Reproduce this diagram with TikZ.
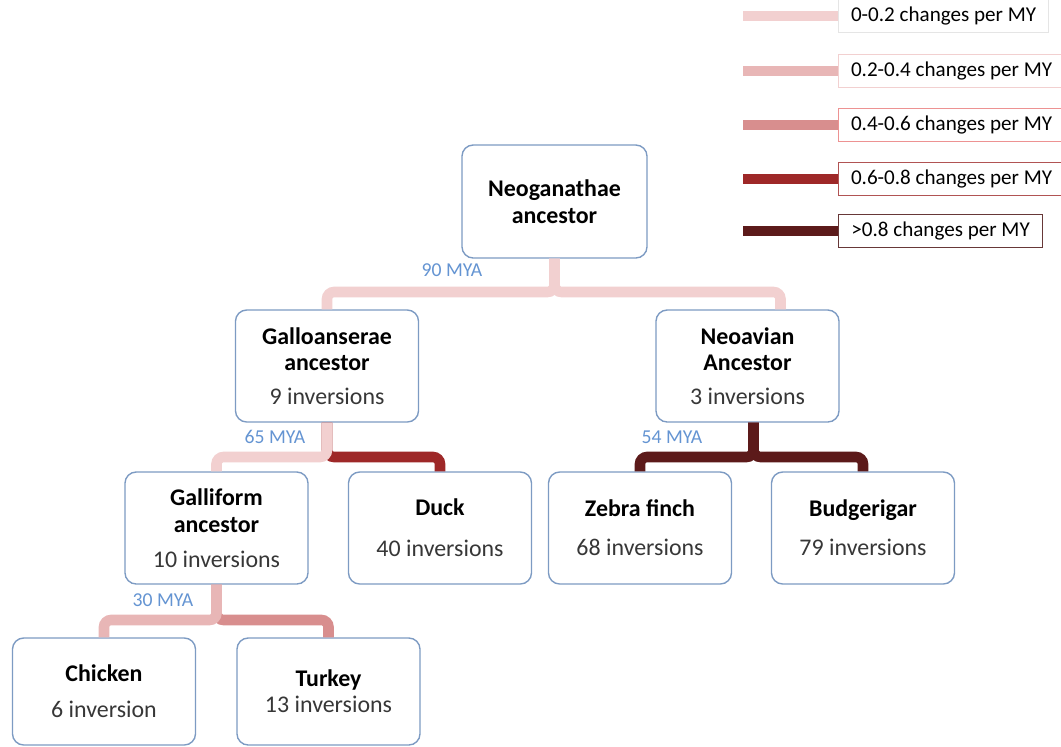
\documentclass[tikz,border=0pt]{standalone}
\usepackage{fontspec}
\setmainfont{Carlito}
\usepackage{xcolor}
\usetikzlibrary{positioning,calc}

\definecolor{rateA}{RGB}{242,208,208}
\definecolor{rateB}{RGB}{232,182,182}
\definecolor{rateC}{RGB}{216,142,142}
\definecolor{rateD}{RGB}{158,40,40}
\definecolor{rateE}{RGB}{92,26,26}
\definecolor{boxblue}{RGB}{125,155,195}
\definecolor{myablue}{RGB}{100,148,210}
\definecolor{countgray}{RGB}{55,55,55}

\tikzset{
  taxon/.style={draw=boxblue, line width=1pt, fill=white, rounded corners=8pt,
    minimum width=4.575cm, minimum height=2.8cm, align=center,
    font=\fontsize{17}{19}\selectfont},
  mya/.style={text=myablue, font=\fontsize{14}{16}\selectfont},
  keybox/.style={anchor=west, line width=0.8pt, fill=white, align=left,
    minimum height=0.82cm, inner xsep=3pt, font=\fontsize{15}{17}\selectfont},
  edgeA/.style={line width=7.5pt, draw=rateA, rounded corners=5pt},
  edgeB/.style={line width=7.5pt, draw=rateB, rounded corners=5pt},
  edgeC/.style={line width=7.5pt, draw=rateC, rounded corners=5pt},
  edgeD/.style={line width=7.5pt, draw=rateD, rounded corners=5pt},
  edgeE/.style={line width=7.5pt, draw=rateE, rounded corners=5pt}
}
\newcommand{\cnt}[1]{{\color{countgray}#1}}

\begin{document}
\begin{tikzpicture}[x=0.025cm, y=-0.025cm]
  \useasboundingbox (0,0) rectangle (1061,746);

  % Tree nodes
  \node[taxon, minimum width=4.625cm, minimum height=2.825cm] (neog) at (554.5,201.5) {\textbf{Neoganathae}\\\textbf{ancestor}};
  \node[taxon] (gallo) at (327,366) {\textbf{Galloanserae}\\\textbf{ancestor}\\[5pt]\cnt{9 inversions}};
  \node[taxon] (neoav) at (747.5,366) {\textbf{Neoavian}\\\textbf{Ancestor}\\[5pt]\cnt{3 inversions}};
  \node[taxon] (galli) at (216.5,528) {\textbf{Galliform}\\\textbf{ancestor}\\[6pt]\cnt{10 inversions}};
  \node[taxon] (duck) at (440,528) {\textbf{Duck}\\[10pt]\cnt{40 inversions}};
  \node[taxon] (zebra) at (640,528) {\textbf{Zebra finch}\\[8.5pt]\cnt{68 inversions}};
  \node[taxon] (budgie) at (863,528) {\textbf{Budgerigar}\\[8.5pt]\cnt{79 inversions}};
  \node[taxon, minimum height=2.675cm] (chicken) at (104,691.5) {\textbf{Chicken}\\[6.5pt]\cnt{6 inversion}};
  \node[taxon, minimum height=2.675cm] (turkey) at (328.5,691.5) {\textbf{Turkey}\\[-0.5pt]\cnt{13 inversions}};

  % Branch levels
  \coordinate (bar1) at (0,292);
  \coordinate (bar2) at (0,457);
  \coordinate (bar3) at (0,620);

  % Branches
  \draw[edgeA] (neog.south) -- (neog.south |- bar1) -| (gallo.north);
  \draw[edgeA] (neog.south) -- (neog.south |- bar1) -| ([xshift=0.825cm]neoav.north);
  \draw[edgeD] (gallo.south) -- (gallo.south |- bar2) -| (duck.north);
  \draw[edgeA] (gallo.south) -- (gallo.south |- bar2) -| (galli.north);
  \draw[edgeE] ([xshift=0.15cm]neoav.south) -- ([xshift=0.15cm]neoav.south |- bar2) -| (zebra.north);
  \draw[edgeE] ([xshift=0.15cm]neoav.south) -- ([xshift=0.15cm]neoav.south |- bar2) -| (budgie.north);
  \draw[edgeC] (galli.south) -- (galli.south |- bar3) -| (turkey.north);
  \draw[edgeB] (galli.south) -- (galli.south |- bar3) -| (chicken.north);

  % Divergence times
  \node[mya] (t90) at (452,270) {90 MYA};
  \node[mya] (t65) at (275,437) {65 MYA};
  \node[mya] (t54) at (672,437) {54 MYA};
  \node[mya] (t30) at (163,600) {30 MYA};

  % Key
  \node[keybox, draw=black!10, minimum width=5.25cm] (keyA) at (838,16) {0-0.2 changes per MY};
  \node[keybox, draw=rateA, minimum width=5.65cm] (keyB) at (838,71) {0.2-0.4 changes per MY};
  \node[keybox, draw=rateB!80!red, minimum width=5.65cm] (keyC) at (838,125) {0.4-0.6 changes per MY};
  \node[keybox, draw=rateD!80!white, minimum width=5.65cm] (keyD) at (838,179) {0.6-0.8 changes per MY};
  \node[keybox, draw=rateE!70!gray, minimum width=5.1cm] (keyE) at (838,231) {>0.8 changes per MY};
  \draw[edgeA] (743,16) -- (keyA.west);
  \draw[edgeB] (743,71) -- (keyB.west);
  \draw[edgeC] (743,125) -- (keyC.west);
  \draw[edgeD] (743,179) -- (keyD.west);
  \draw[edgeE] (743,231) -- (keyE.west);
\end{tikzpicture}
\end{document}
